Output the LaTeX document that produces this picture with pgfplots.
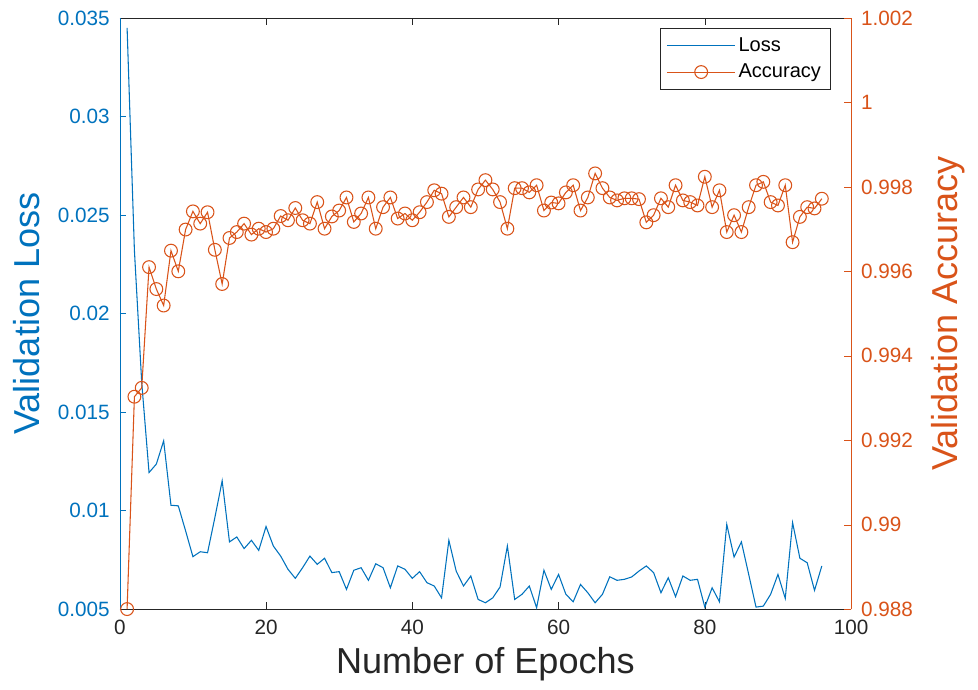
\documentclass[border=0pt]{standalone}
\usepackage{fontspec}
\setmainfont{Liberation Sans}
\usepackage{pgfplots}
\usepackage{pgfplotstable}
\pgfplotsset{compat=1.18}

\definecolor{mblue}{RGB}{0,114,189}
\definecolor{morange}{RGB}{217,83,25}
\definecolor{mgray}{RGB}{38,38,38}

% epoch, validation loss, validation accuracy
\pgfplotstableread{
epoch loss acc
1 0.0345 0.98800
2 0.0232 0.99303
3 0.0165 0.99324
4 0.01193 0.99610
5 0.01236 0.99558
6 0.01354 0.99519
7 0.01027 0.99649
8 0.01024 0.99600
9 0.00897 0.99699
10 0.00766 0.99742
11 0.00791 0.99713
12 0.00786 0.99740
13 0.00964 0.99651
14 0.01151 0.99570
15 0.00841 0.99679
16 0.00866 0.99693
17 0.00807 0.99713
18 0.00849 0.99687
19 0.00798 0.99701
20 0.00919 0.99693
21 0.00820 0.99701
22 0.00769 0.99731
23 0.00702 0.99721
24 0.00656 0.99750
25 0.00710 0.99721
26 0.00769 0.99713
27 0.00727 0.99764
28 0.00758 0.99701
29 0.00685 0.99730
30 0.00690 0.99744
31 0.00600 0.99775
32 0.00697 0.99717
33 0.00710 0.99737
34 0.00646 0.99775
35 0.00730 0.99701
36 0.00710 0.99752
37 0.00608 0.99775
38 0.00719 0.99725
39 0.00702 0.99737
40 0.00656 0.99721
41 0.00690 0.99740
42 0.00634 0.99764
43 0.00617 0.99792
44 0.00557 0.99784
45 0.00849 0.99729
46 0.00693 0.99752
47 0.00617 0.99775
48 0.00668 0.99752
49 0.00549 0.99794
50 0.00532 0.99816
51 0.00557 0.99794
52 0.00612 0.99764
53 0.00820 0.99701
54 0.00549 0.99797
55 0.00575 0.99797
56 0.00617 0.99787
57 0.00507 0.99804
58 0.00697 0.99744
59 0.00600 0.99763
60 0.00676 0.99761
61 0.00575 0.99787
62 0.00537 0.99804
63 0.00625 0.99744
64 0.00583 0.99775
65 0.00532 0.99832
66 0.00575 0.99797
67 0.00664 0.99775
68 0.00646 0.99768
69 0.00651 0.99773
70 0.00663 0.99773
71 0.00693 0.99771
72 0.00719 0.99716
73 0.00685 0.99733
74 0.00583 0.99773
75 0.00659 0.99752
76 0.00563 0.99804
77 0.00668 0.99768
78 0.00646 0.99764
79 0.00651 0.99756
80 0.00510 0.99824
81 0.00608 0.99752
82 0.00537 0.99792
83 0.00930 0.99693
84 0.00764 0.99733
85 0.00841 0.99693
86 0.00676 0.99752
87 0.00510 0.99804
88 0.00515 0.99812
89 0.00575 0.99764
90 0.00676 0.99756
91 0.00554 0.99804
92 0.00939 0.99669
93 0.00758 0.99729
94 0.00735 0.99752
95 0.00595 0.99749
96 0.00719 0.99772
}\datatable

\begin{document}
\begin{tikzpicture}
\pgfplotsset{
  common/.style={
    width=547.5pt, height=442.5pt, scale only axis,
    xmin=0, xmax=100,
    tick align=inside, major tick length=5pt,
    scaled y ticks=false,
    /pgf/number format/assume math mode=true,
    tick label style={font=\fontsize{15.5}{18}\selectfont},
    xticklabel shift=5pt, yticklabel shift=4pt,
    label style={font=\fontsize{27}{32}\selectfont, inner sep=6pt},
    ylabel style={inner sep=10pt},
  }
}
\begin{axis}[common,
  axis x line*=box, axis y line*=left,
  ymin=0.005, ymax=0.035,
  xtick={0,20,40,60,80,100},
  ytick={0.005,0.01,0.015,0.02,0.025,0.03,0.035},
  yticklabel style={color=mblue, /pgf/number format/fixed, /pgf/number format/precision=3},
  xticklabel style={color=mgray},
  x axis line style={mgray}, y axis line style={mblue},
  xtick style={mgray}, ytick style={mblue},
  xlabel={Number of Epochs}, ylabel={Validation Loss},
  xlabel style={color=mgray}, ylabel style={color=mblue},
  after end axis/.code={\path (rel axis cs:0.5,1) ++(0pt,13.5pt);},
]
\addplot[mblue, line width=0.8pt] table[x=epoch, y=loss] {\datatable};
\end{axis}
\begin{axis}[common,
  axis x line=none, axis y line*=right,
  ymin=0.988, ymax=1.002,
  ytick={0.988,0.99,0.992,0.994,0.996,0.998,1,1.002},
  yticklabel style={color=morange, /pgf/number format/fixed, /pgf/number format/precision=3},
  y axis line style={morange}, ytick style={morange},
  ylabel={Validation Accuracy}, ylabel style={color=morange},
  legend style={at={(rel axis cs:0.972,0.983)}, anchor=north east,
    font=\fontsize{15}{18}\selectfont, draw=mgray, fill=white,
    cells={anchor=west}, inner sep=5pt, row sep=4pt},
  legend image code/.code={
    \draw[mark repeat=2, mark phase=2, #1] plot coordinates {(0cm,0cm) (0.9cm,0cm) (1.8cm,0cm)};},
]
\addlegendimage{mblue, line width=0.8pt}
\addlegendentry{Loss}
\addplot[morange, line width=0.8pt, mark=o, mark size=4.8pt] table[x=epoch, y=acc] {\datatable};
\addlegendentry{Accuracy}
\end{axis}
\end{tikzpicture}
\end{document}
